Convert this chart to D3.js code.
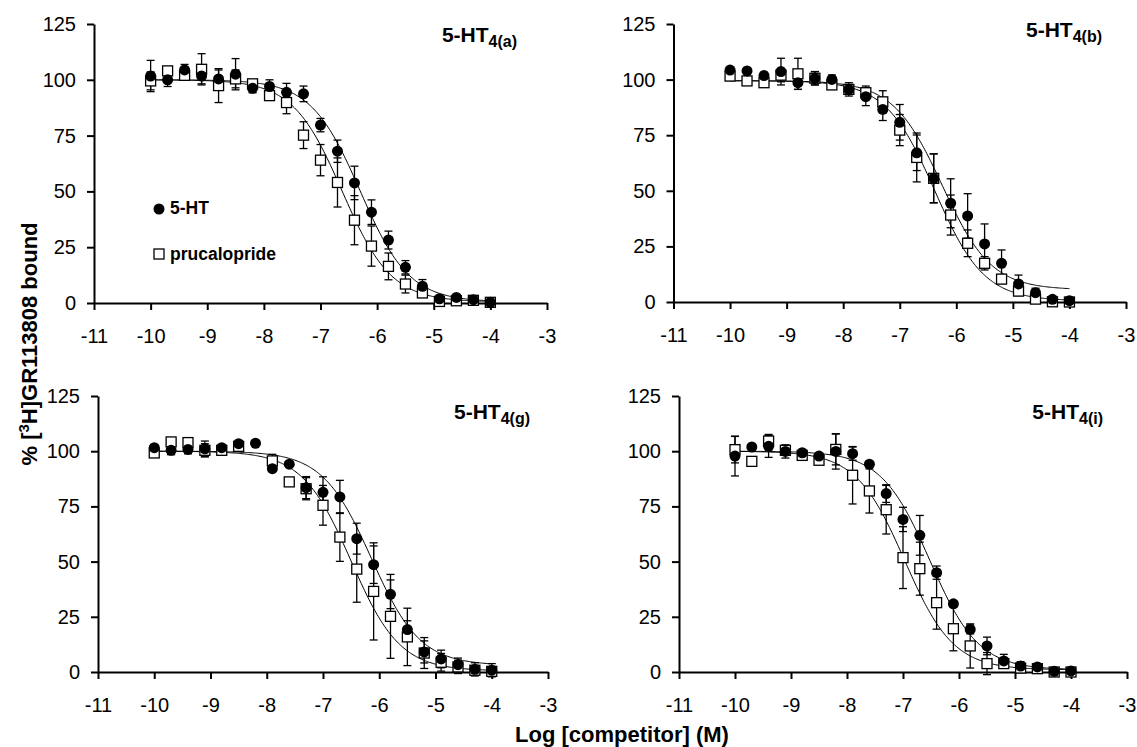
<!DOCTYPE html>
<meta charset="utf-8">
<script src="https://d3js.org/d3.v7.min.js"></script>
<style>
  body { margin: 0; background: #fff; }
  text { font-family: "Liberation Sans", Arial, sans-serif; fill: #000; }
</style>
<div id="chart"></div>
<script>
// log concentration of competitor (M)
const logConc = [-10, -9.7, -9.4, -9.1, -8.8, -8.5, -8.2, -7.9, -7.6, -7.3, -7.0,
                 -6.7, -6.4, -6.1, -5.8, -5.5, -5.2, -4.9, -4.6, -4.3, -4.0];

const xTicks = [-11, -10, -9, -8, -7, -6, -5, -4, -3];
const yTicks = [0, 25, 50, 75, 100, 125];

// 5-HT4(a)
const htA     = [101.7, 100, 104.4, 101.7, 100.4, 102.5, 96.2, 97, 94.4, 93.7, 79.7, 68, 53.8, 40.7, 28.2, 16, 7.5, 1.9, 2.5, 1.5, 0.3];
const htAErr  = [7, 3, 2.5, 3.5, 4, 7, 2, 3, 4, 3.5, 3, 5, 7.5, 5.5, 4, 3, 3, 1, 1, 1, 1];
const pruA    = [99.5, 104, 102, 104.7, 97.4, 100.4, 98.2, 92.9, 89.8, 75.2, 64, 54, 37.1, 25.5, 16.4, 8.5, 4.5, 0.7, 1, 1.2, 0.3];
const pruAErr = [4, 1, 1, 7, 7.6, 4, 1, 1, 5, 6, 7, 11, 11, 9, 6, 4, 2, 1, 1, 1, 0.5];

// 5-HT4(b)
const htB     = [104.3, 103.9, 101.8, 103.6, 98.6, 100.6, 100.1, 95.6, 92.3, 86.6, 80.8, 67.1, 55.6, 44.4, 38.7, 26.1, 17.4, 8.1, 4.2, 1.2, 0.6];
const htBErr  = [1, 1, 1.5, 6, 3, 3, 2, 3, 4, 5, 8, 8, 11, 11, 10, 9, 6, 4, 2, 1, 1];
const pruB    = [101.6, 99.4, 98.6, 102, 102.6, 100.6, 97.6, 95.6, 94.1, 90, 77.3, 65, 55.6, 39.1, 26.4, 17.4, 10.3, 4.9, 1.3, 0.1, 0];
const pruBErr = [2, 1, 1, 3, 7, 3, 2, 2, 3, 5, 7, 11, 11, 9, 6, 3, 2, 2, 1, 0.5, 0.5];

// 5-HT4(g)
const htG     = [101.6, 100.4, 100.8, 101.1, 101.6, 103.4, 103.6, 92.1, 94.1, 83.5, 81.4, 79.3, 60.4, 48.6, 35.2, 19.2, 9.1, 5.9, 3.3, 1.2, 0.8];
const htGErr  = [1, 2, 2, 3.5, 1, 1, 0, 1, 1, 5, 7, 7.5, 7, 8.5, 6.5, 4, 5, 4, 3, 3, 3];
const pruG    = [99.2, 104.2, 103.9, 100.4, 100.4, 102.2, null, 95.6, 86.1, 83, 75.5, 61.1, 46.6, 36.5, 25.2, 15.9, 8.6, 4.4, 2.3, 0.8, 0.3];
const pruGErr = [1, 1, 1, 3, 1, 1, 0, 3, 0, 5, 9, 11, 15, 22, 19, 13, 7, 4, 3, 2, 2];

// 5-HT4(i)
const htI     = [97.8, 101.9, 102.2, 99.9, 99.3, 97.8, 99.9, 98.9, 94.1, 80.8, 69.1, 61.9, 45, 30.9, 19.3, 11.8, 5, 2.7, 2.3, 0.3, 0.5];
const htIErr  = [9, 1, 5, 3, 1, 1, 8, 3, 1, 4, 5.5, 9, 3, 1, 2, 4, 3, 2, 1, 1, 1];
const pruI    = [100.7, 95.4, 104.6, 100.4, 98.1, 95.9, 100.8, 89.1, 82, 73.5, 51.8, 46.8, 31.4, 19.6, 11.8, 3.8, 3.8, 1.8, 1.5, 0, 0];
const pruIErr = [6, 2, 3, 2, 1, 1, 7, 13, 10, 11, 14, 12, 12, 10, 10, 5, 2, 2, 1, 0.5, 0.5];

// fitted one-site curves: [top, bottom, logIC50, hill]
const htAFit = [100, 0.5, -6.3, 1],   pruAFit = [100, 0.5, -6.62, 1];
const htBFit = [99.5, 5.5, -6.25, 1], pruBFit = [99.5, 0.5, -6.38, 1];
const htGFit = [100, 3, -6.14, 1],    pruGFit = [100, 0.5, -6.5, 1];
const htIFit = [100, 1, -6.52, 1],    pruIFit = [100, 1, -6.97, 1];

const panels = [
  {sub: "4(a)", ht: htA, htErr: htAErr, pru: pruA, pruErr: pruAErr, htFit: htAFit, pruFit: pruAFit,
   box: {left: 94, right: 547, top: 24, bottom: 303}, title: {x: 517, y: 42}, legend: true},
  {sub: "4(b)", ht: htB, htErr: htBErr, pru: pruB, pruErr: pruBErr, htFit: htBFit, pruFit: pruBFit,
   box: {left: 673.5, right: 1126, top: 24, bottom: 302}, title: {x: 1102, y: 37}},
  {sub: "4(g)", ht: htG, htErr: htGErr, pru: pruG, pruErr: pruGErr, htFit: htGFit, pruFit: pruGFit,
   box: {left: 98, right: 548, top: 396, bottom: 672}, title: {x: 530, y: 419}},
  {sub: "4(i)", ht: htI, htErr: htIErr, pru: pruI, pruErr: pruIErr, htFit: htIFit, pruFit: pruIFit,
   box: {left: 679, right: 1127, top: 396, bottom: 672}, title: {x: 1103, y: 419}}
];

const svg = d3.select("#chart").append("svg")
    .attr("width", 1137)
    .attr("height", 747);

function hill(p, x) {
  return p[1] + (p[0] - p[1]) / (1 + Math.pow(10, (x - p[2]) * p[3]));
}

panels.forEach(function(p) {
  const x = d3.scaleLinear().domain([-11, -3]).range([p.box.left, p.box.right]);
  const y = d3.scaleLinear().domain([0, 125]).range([p.box.bottom, p.box.top]);
  const g = svg.append("g");

  // axes
  const xAxis = g.append("g")
      .attr("transform", "translate(0," + p.box.bottom + ")")
      .call(d3.axisBottom(x).tickValues(xTicks).tickSize(7).tickSizeOuter(0)
              .tickPadding(19).tickFormat(d => String(d)));
  const yAxis = g.append("g")
      .attr("transform", "translate(" + p.box.left + ",0)")
      .call(d3.axisLeft(y).tickValues(yTicks).tickSize(7).tickSizeOuter(0)
              .tickPadding(11).tickFormat(d => String(d)));
  [xAxis, yAxis].forEach(function(a) {
    a.selectAll("path, line").attr("stroke", "#000").attr("stroke-width", 2);
    a.selectAll("text").attr("font-size", 20).attr("font-family", "Liberation Sans, Arial, sans-serif").attr("fill", "#000");
  });

  const pts = function(vals, errs) {
    return logConc.map((c, i) => ({c: c, v: vals[i], e: errs[i]})).filter(d => d.v != null);
  };
  const htPts = pts(p.ht, p.htErr), pruPts = pts(p.pru, p.pruErr);

  // error bars
  [pruPts, htPts].forEach(function(set) {
    const eb = g.append("g").attr("stroke", "#000").attr("stroke-width", 1.3);
    set.filter(d => d.e > 0).forEach(function(d) {
      const cx = x(d.c);
      eb.append("line").attr("x1", cx).attr("x2", cx).attr("y1", y(d.v - d.e)).attr("y2", y(d.v + d.e));
      eb.append("line").attr("x1", cx - 4).attr("x2", cx + 4).attr("y1", y(d.v - d.e)).attr("y2", y(d.v - d.e));
      eb.append("line").attr("x1", cx - 4).attr("x2", cx + 4).attr("y1", y(d.v + d.e)).attr("y2", y(d.v + d.e));
    });
  });

  // fitted curves
  const grid = d3.range(-10, -3.999, 0.02);
  const line = d3.line().x(d => x(d[0])).y(d => y(d[1]));
  [p.htFit, p.pruFit].forEach(function(f) {
    g.append("path")
        .datum(grid.map(c => [c, hill(f, c)]))
        .attr("d", line)
        .attr("fill", "none")
        .attr("stroke", "#000")
        .attr("stroke-width", 1);
  });

  // prucalopride: open squares
  g.append("g").selectAll("rect").data(pruPts).enter().append("rect")
      .attr("x", d => x(d.c) - 5).attr("y", d => y(d.v) - 5)
      .attr("width", 10).attr("height", 10)
      .attr("fill", "#fff").attr("stroke", "#000").attr("stroke-width", 1.3);

  // 5-HT: filled circles
  g.append("g").selectAll("circle").data(htPts).enter().append("circle")
      .attr("cx", d => x(d.c)).attr("cy", d => y(d.v)).attr("r", 5.5)
      .attr("fill", "#000");

  // panel title
  const t = g.append("text")
      .attr("x", p.title.x).attr("y", p.title.y)
      .attr("text-anchor", "end")
      .attr("font-weight", "bold").attr("font-size", 21);
  t.append("tspan").text("5-HT");
  t.append("tspan").attr("dy", 5).attr("font-size", 16).text(p.sub);

  if (p.legend) {
    g.append("circle").attr("cx", 159).attr("cy", 209).attr("r", 5.5).attr("fill", "#000");
    g.append("text").attr("x", 170).attr("y", 214).attr("font-weight", "bold").attr("font-size", 17.5).text("5-HT");
    g.append("rect").attr("x", 154).attr("y", 249).attr("width", 10).attr("height", 10)
        .attr("fill", "#fff").attr("stroke", "#000").attr("stroke-width", 1.3);
    g.append("text").attr("x", 170).attr("y", 260).attr("font-weight", "bold").attr("font-size", 17.5).text("prucalopride");
  }
});

// axis titles
const yl = svg.append("text")
    .attr("transform", "translate(37,344) rotate(-90)")
    .attr("text-anchor", "middle")
    .attr("font-weight", "bold").attr("font-size", 22);
yl.append("tspan").text("% [");
yl.append("tspan").attr("dy", -8).attr("font-size", 15).text("3");
yl.append("tspan").attr("dy", 8).text("H]GR113808 bound");

svg.append("text")
    .attr("x", 622).attr("y", 742)
    .attr("text-anchor", "middle")
    .attr("font-weight", "bold").attr("font-size", 22)
    .text("Log [competitor] (M)");
</script>
